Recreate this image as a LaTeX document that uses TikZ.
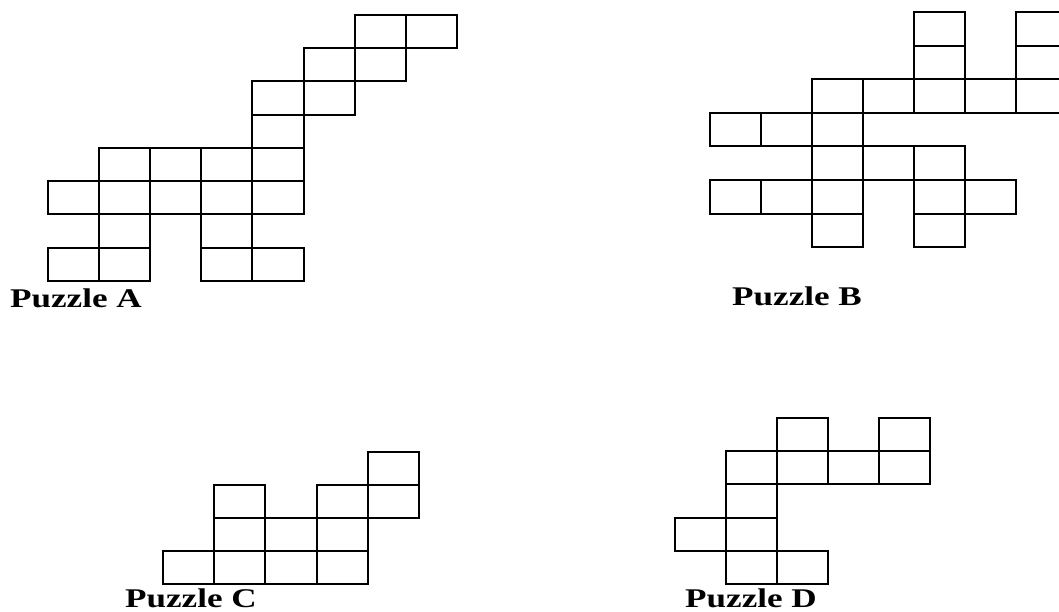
\documentclass[tikz,border=0pt]{standalone}
\usepackage{fontspec}
\setmainfont{Liberation Serif}
\usepackage{tikz}
\usetikzlibrary{positioning}
\tikzset{
	square/.style = {
		draw=black,
		line width=2pt,
		line join=miter
	},
	title/.style = {
		anchor=base west,
		inner sep=0pt,
		font=\fontsize{27}{29}\selectfont\bfseries
	}
}
% one cell of a puzzle, column #1, row #2
\newcommand{\puzcell}[2]{\draw[square] (#1,#2) rectangle ++(1,1);}

\begin{document}
\begin{tikzpicture}[x=1pt, y=-1pt]
		
		\useasboundingbox (0,0) rectangle (1059,612);
		
		% --- Puzzle A ---
		\begin{scope}[shift={(48,15)}, xscale=51.1, yscale=33.25]
			\foreach \c/\r in {6/0,7/0, 5/1,6/1, 4/2,5/2, 4/3,
				1/4,2/4,3/4,4/4, 0/5,1/5,2/5,3/5,4/5, 1/6,3/6, 0/7,1/7,3/7,4/7}
			{\puzcell{\c}{\r}}
		\end{scope}
		
		% --- Puzzle B ---
		\begin{scope}[shift={(710,12)}, xscale=51.0, yscale=33.6]
			\foreach \c/\r in {4/0,6/0, 4/1,6/1, 2/2,3/2,4/2,5/2,6/2, 0/3,1/3,2/3,
				2/4,3/4,4/4, 0/5,1/5,2/5,4/5,5/5, 2/6,4/6}
			{\puzcell{\c}{\r}}
		\end{scope}
		
		% --- Puzzle C ---
		\begin{scope}[shift={(163,452)}, xscale=51.2, yscale=33]
			\foreach \c/\r in {4/0, 1/1,3/1,4/1, 1/2,2/2,3/2, 0/3,1/3,2/3,3/3}
			{\puzcell{\c}{\r}}
		\end{scope}
		
		% --- Puzzle D ---
		\begin{scope}[shift={(675,418)}, xscale=51.0, yscale=33.2]
			\foreach \c/\r in {2/0,4/0, 1/1,2/1,3/1,4/1, 1/2, 0/3,1/3, 1/4,2/4}
			{\puzcell{\c}{\r}}
		\end{scope}
		
		% --- Titles ---
		\node[title] (titleA) at (10,307) {\scalebox{1.3}[1]{Puzzle A}};
		\node[title] (titleB) at (732,305) {\scalebox{1.3}[1]{Puzzle B}};
		\node[title] (titleC) at (125,607) {\scalebox{1.3}[1]{Puzzle C}};
		\node[title] (titleD) at (685,607) {\scalebox{1.3}[1]{Puzzle D}};
		
	\end{tikzpicture}
\end{document}
